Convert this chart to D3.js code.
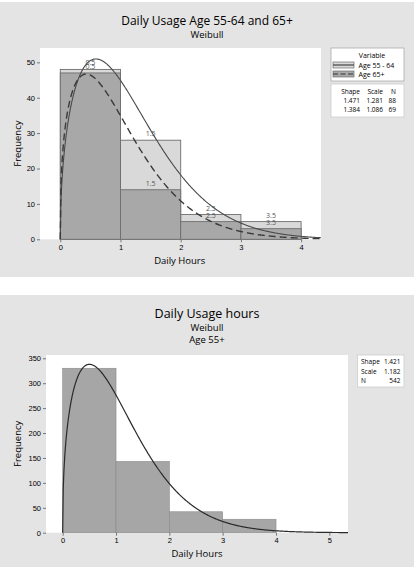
<!DOCTYPE html>
<html>
<head>
<meta charset="utf-8">
<script src="https://cdn.jsdelivr.net/npm/d3@7"></script>
<style>
body{margin:0;background:#fff;}
svg{display:block;font-family:"Open Sans","Noto Sans",sans-serif;}
</style>
</head>
<body>
<svg id="chart" width="418" height="575"></svg>
<script>
// ---------- data ----------
const binStarts = [0, 1, 2, 3];
const binWidth = 1;
const binLabels = ["0.5", "1.5", "2.5", "3.5"];
const age5564Counts = [48, 28, 7, 5];
const age65Counts = [47, 14, 5, 3];
const age55PlusCounts = [330, 143, 42, 27];

const seriesNames = ["Age 55 - 64", "Age 65+"];
const fitShape = [1.471, 1.384];
const fitScale = [1.281, 1.086];
const fitN = [88, 69];
const fitShapeLabels = ["1.471", "1.384"];
const fitScaleLabels = ["1.281", "1.086"];

const allShape = 1.421, allScale = 1.182, allN = 542;
const allLabels = [["Shape", "1.421"], ["Scale", "1.182"], ["N", "542"]];

const topXTicks = [0, 1, 2, 3, 4];
const topYTicks = [0, 10, 20, 30, 40, 50];
const bottomXTicks = [0, 1, 2, 3, 4, 5];
const bottomYTicks = [0, 50, 100, 150, 200, 250, 300, 350];

// ---------- helpers ----------
function weibullPdf(x, k, lam) {
  if (x <= 0) return 0;
  const z = x / lam;
  return (k / lam) * Math.pow(z, k - 1) * Math.exp(-Math.pow(z, k));
}

const svg = d3.select("#chart");
const BG = "#e4e4e4";
const LIGHT = "#d9d9d9";
const DARK = "#a8a8a8";
const OUTLINE = "#6e6e6e";
const TXT = "#000";
const TW = 500;

function axes(g, x, y, xTicks, yTicks, plot) {
  const xa = g.append("g").attr("transform", `translate(0,${plot.bottom})`)
    .call(d3.axisBottom(x).tickValues(xTicks).tickSize(3).tickSizeOuter(0).tickPadding(2).tickFormat(d3.format("d")));
  const ya = g.append("g").attr("transform", `translate(${plot.left},0)`)
    .call(d3.axisLeft(y).tickValues(yTicks).tickSize(3).tickSizeOuter(0).tickPadding(2).tickFormat(d3.format("d")));
  [xa, ya].forEach(a => {
    a.select(".domain").remove();
    a.selectAll("line").attr("stroke", "#777");
    a.selectAll("text").attr("fill", TXT).style("font-size", "7.5px").attr("font-family", null);
  });
}

function weibullLine(x, y, k, lam, n, x1) {
  const pts = d3.range(0, x1 + 1e-9, 0.01).map(v => [v, n * binWidth * weibullPdf(v, k, lam)]);
  return d3.line().x(d => x(d[0])).y(d => y(d[1])).curve(d3.curveLinear)(pts);
}

// ============ TOP CHART ============
{
  svg.append("rect").attr("x", 0).attr("y", 2).attr("width", 414).attr("height", 275).attr("fill", BG);
  const plot = {left: 40, right: 321, top: 48, bottom: 239.3};
  const x = d3.scaleLinear().domain([-0.337, 4.33]).range([plot.left, plot.right]);
  const y = d3.scaleLinear().domain([0, 54.05]).range([plot.bottom, plot.top]);
  const g = svg.append("g");
  g.append("rect").attr("x", plot.left).attr("y", plot.top)
    .attr("width", plot.right - plot.left).attr("height", plot.bottom - plot.top).attr("fill", "#fff");

  const drawBars = (counts, fill) => {
    g.append("g").selectAll("rect").data(counts).join("rect")
      .attr("x", (d, i) => x(binStarts[i]))
      .attr("width", (d, i) => x(binStarts[i] + binWidth) - x(binStarts[i]))
      .attr("y", d => y(d))
      .attr("height", d => y(0) - y(d))
      .attr("fill", fill).attr("stroke", OUTLINE).attr("stroke-width", 0.9);
  };
  drawBars(age5564Counts, LIGHT);
  drawBars(age65Counts, DARK);

  [age5564Counts, age65Counts].forEach(counts => {
    g.append("g").selectAll("text").data(counts).join("text")
      .attr("x", (d, i) => x(binStarts[i] + binWidth / 2))
      .attr("y", d => y(d) - 4)
      .attr("text-anchor", "middle").attr("fill", "#555").style("font-size", "7px")
      .text((d, i) => binLabels[i]);
  });

  g.append("path").attr("d", weibullLine(x, y, fitShape[0], fitScale[0], fitN[0], 4.33))
    .attr("fill", "none").attr("stroke", "#4a4a4a").attr("stroke-width", 1.1);
  g.append("path").attr("d", weibullLine(x, y, fitShape[1], fitScale[1], fitN[1], 4.33))
    .attr("fill", "none").attr("stroke", "#3a3a3a").attr("stroke-width", 1.4).attr("stroke-dasharray", "7,4");

  axes(g, x, y, topXTicks, topYTicks, plot);

  g.append("text").attr("x", 207).attr("y", 25).attr("text-anchor", "middle")
    .style("font-size", "12px").style("font-weight", TW).attr("fill", TXT).text("Daily Usage Age 55-64 and 65+");
  g.append("text").attr("x", 207).attr("y", 37.5).attr("text-anchor", "middle")
    .style("font-size", "9.5px").style("font-weight", TW).attr("fill", TXT).text("Weibull");
  g.append("text").attr("transform", `translate(21,${(plot.top + plot.bottom) / 2}) rotate(-90)`)
    .attr("text-anchor", "middle").style("font-size", "9.5px").style("font-weight", TW).attr("fill", TXT).text("Frequency");
  g.append("text").attr("x", x(2) - 1).attr("y", 264).attr("text-anchor", "middle")
    .style("font-size", "9.5px").style("font-weight", TW).attr("fill", TXT).text("Daily Hours");

  const lg = g.append("g");
  lg.append("rect").attr("x", 331).attr("y", 48).attr("width", 73).attr("height", 33)
    .attr("fill", "#fff").attr("stroke", "#aaa").attr("stroke-width", 0.8);
  lg.append("text").attr("x", 372).attr("y", 58).attr("text-anchor", "middle")
    .style("font-size", "7px").attr("fill", TXT).text("Variable");
  const swFill = [LIGHT, DARK];
  const swDash = [null, "5,2.5"];
  seriesNames.forEach((name, i) => {
    const yy = 62 + i * 9;
    lg.append("rect").attr("x", 333).attr("y", yy).attr("width", 21).attr("height", 6)
      .attr("fill", swFill[i]).attr("stroke", OUTLINE).attr("stroke-width", 0.7);
    lg.append("line").attr("x1", 333).attr("x2", 354).attr("y1", yy + 3).attr("y2", yy + 3)
      .attr("stroke", "#333").attr("stroke-width", 1.1).attr("stroke-dasharray", swDash[i]);
    lg.append("text").attr("x", 358.5).attr("y", yy + 5.5).style("font-size", "7px").attr("fill", TXT).text(name);
  });

  lg.append("rect").attr("x", 331).attr("y", 84).attr("width", 73).attr("height", 33)
    .attr("fill", "#fff").attr("stroke", "#ccc").attr("stroke-width", 0.8);
  const colX = [360, 383, 396];
  ["Shape", "Scale", "N"].forEach((h, j) => {
    lg.append("text").attr("x", colX[j]).attr("y", 93.5).attr("text-anchor", "end")
      .style("font-size", "6.5px").attr("fill", TXT).text(h);
  });
  fitShapeLabels.forEach((s, i) => {
    const yy = 103 + i * 8.8;
    [s, fitScaleLabels[i], String(fitN[i])].forEach((t, j) => {
      lg.append("text").attr("x", colX[j]).attr("y", yy).attr("text-anchor", "end")
        .style("font-size", "6.5px").attr("fill", TXT).text(t);
    });
  });
}

// ============ BOTTOM CHART ============
{
  svg.append("rect").attr("x", 0).attr("y", 295).attr("width", 414).attr("height", 272).attr("fill", BG);
  const plot = {left: 46, right: 348, top: 355, bottom: 532.7};
  const x = d3.scaleLinear().domain([-0.313, 5.35]).range([plot.left, plot.right]);
  const y = d3.scaleLinear().domain([0, 356.6]).range([plot.bottom, plot.top]);
  const g = svg.append("g");
  g.append("rect").attr("x", plot.left).attr("y", plot.top)
    .attr("width", plot.right - plot.left).attr("height", plot.bottom - plot.top).attr("fill", "#fff");

  g.append("g").selectAll("rect").data(age55PlusCounts).join("rect")
    .attr("x", (d, i) => x(binStarts[i]))
    .attr("width", (d, i) => x(binStarts[i] + binWidth) - x(binStarts[i]))
    .attr("y", d => y(d))
    .attr("height", d => y(0) - y(d))
    .attr("fill", "#a6a6a6").attr("stroke", "#8a8a8a").attr("stroke-width", 0.6);

  g.append("path").attr("d", weibullLine(x, y, allShape, allScale, allN, 5.35))
    .attr("fill", "none").attr("stroke", "#2a2a2a").attr("stroke-width", 1.2);

  axes(g, x, y, bottomXTicks, bottomYTicks, plot);

  g.append("text").attr("x", 207).attr("y", 318).attr("text-anchor", "middle")
    .style("font-size", "12.5px").style("font-weight", TW).attr("fill", TXT).text("Daily Usage hours");
  g.append("text").attr("x", 207).attr("y", 330.5).attr("text-anchor", "middle")
    .style("font-size", "9.5px").style("font-weight", TW).attr("fill", TXT).text("Weibull");
  g.append("text").attr("x", 207).attr("y", 343).attr("text-anchor", "middle")
    .style("font-size", "9.5px").style("font-weight", TW).attr("fill", TXT).text("Age 55+");
  g.append("text").attr("transform", `translate(21,${(plot.top + plot.bottom) / 2}) rotate(-90)`)
    .attr("text-anchor", "middle").style("font-size", "9.5px").style("font-weight", TW).attr("fill", TXT).text("Frequency");
  g.append("text").attr("x", 197).attr("y", 557).attr("text-anchor", "middle")
    .style("font-size", "9.5px").style("font-weight", TW).attr("fill", TXT).text("Daily Hours");

  const lg = g.append("g");
  lg.append("rect").attr("x", 357.5).attr("y", 355).attr("width", 46.5).attr("height", 32)
    .attr("fill", "#fff").attr("stroke", "#ccc").attr("stroke-width", 0.8);
  allLabels.forEach((row, i) => {
    const yy = 364 + i * 9.6;
    lg.append("text").attr("x", 361).attr("y", yy).style("font-size", "6.5px").attr("fill", TXT).text(row[0]);
    lg.append("text").attr("x", 400.5).attr("y", yy).attr("text-anchor", "end").style("font-size", "6.5px").attr("fill", TXT).text(row[1]);
  });
}
</script>
</body>
</html>
